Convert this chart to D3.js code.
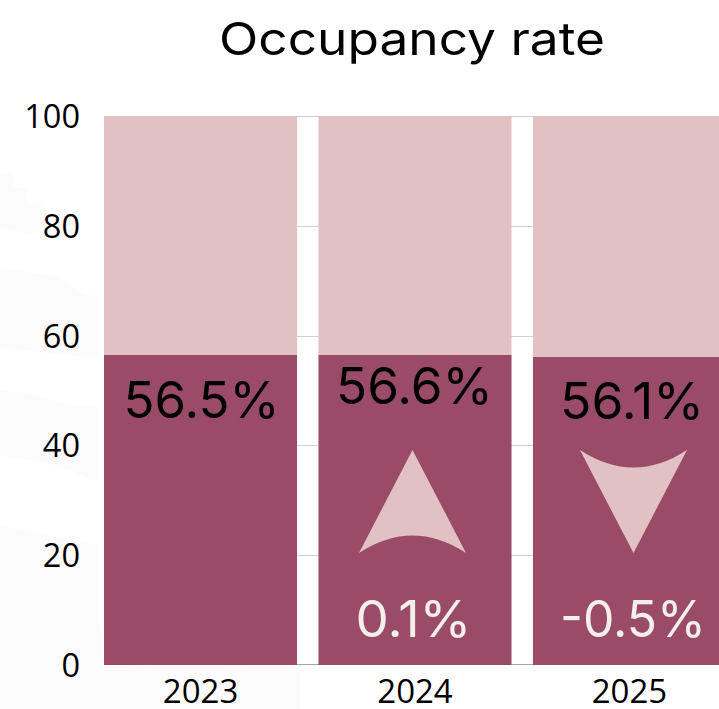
<!DOCTYPE html>
<html><head><meta charset="utf-8">
<script src="https://cdnjs.cloudflare.com/ajax/libs/d3/7.8.5/d3.min.js"></script>
<style>html,body{margin:0;padding:0;background:#fff;overflow:hidden}svg{display:block}</style>
</head><body><div id="c"></div>
<script>
const categories = ["2023","2024","2025"];
const occupied = [56.5,56.6,56.1];
const total = [100,100,100];
const changes = [null,0.1,-0.5];
const yTicks = [0,20,40,60,80,100];
const title = "Occupancy rate";

const W=719,H=709, DARK="#9a4b68", LIGHT="#e2c1c4", PALE="#f5efeb";
const display="Inter, sans-serif", body="'Open Sans', sans-serif";
const svg=d3.select("#c").append("svg").attr("width",W).attr("height",H);
const x=d3.scaleBand().domain(categories).range([104,726]).paddingInner(0.1).paddingOuter(0);
const y=d3.scaleLinear().domain([0,100]).range([665,116]);
const py=v=>Math.ceil(y(v)-0.1);

// faint background wash
const wash=[
 [[0,173],[13,173],[13,188],[27,188],[27,203],[41,203],[41,232],[27,233],[0,228]],
 [[0,268],[27,272],[55,276],[70,284],[84,294],[98,296],[98,357],[84,357],[0,348]],
 [[0,390],[27,393],[41,397],[70,405],[98,405],[98,483],[70,470],[41,462],[0,455]],
 [[0,525],[98,545],[98,610],[104,665],[300,668],[300,709],[0,709]]
];
svg.append("g").selectAll("polygon").data(wash).join("polygon")
  .attr("points",d=>d.join(" ")).attr("fill","#fcfcfc");

// grid
svg.append("g").selectAll("line").data(yTicks.filter(d=>d>0)).join("line")
  .attr("x1",104).attr("x2",W).attr("y1",d=>Math.round(y(d))+.5).attr("y2",d=>Math.round(y(d))+.5)
  .attr("stroke","#d2d2d2").attr("stroke-width",1);
svg.append("line").attr("x1",104).attr("x2",W).attr("y1",664.5).attr("y2",664.5).attr("stroke","#a6a6a6");

// bars
svg.append("g").selectAll("rect").data(categories).join("rect")
  .attr("x",d=>x(d)).attr("width",x.bandwidth())
  .attr("y",(d,i)=>y(total[i])).attr("height",(d,i)=>py(occupied[i])-y(total[i])).attr("fill",LIGHT);
svg.append("g").selectAll("rect").data(categories).join("rect")
  .attr("x",d=>x(d)).attr("width",x.bandwidth())
  .attr("y",(d,i)=>py(occupied[i])).attr("height",(d,i)=>y(0)-py(occupied[i])).attr("fill",DARK);

// axes
const yAxis=svg.append("g").attr("transform","translate(104,1)").call(d3.axisLeft(y).tickValues(yTicks).tickSize(0).tickPadding(24));
yAxis.select(".domain").remove();
yAxis.selectAll("text").attr("font-family",body).attr("font-size",32.5).attr("fill","#000");
const xAxis=svg.append("g").attr("transform","translate(0,665)").call(d3.axisBottom(x).tickSize(0).tickPadding(15));
xAxis.select(".domain").remove();
xAxis.selectAll("text").attr("font-family",body).attr("font-size",33).attr("fill","#000");

// title
svg.append("text").attr("x",412).attr("y",55).attr("text-anchor","middle")
  .attr("font-family",display).attr("font-size",45).attr("font-weight",400)
  .attr("textLength",386).attr("lengthAdjust","spacingAndGlyphs").text(title);

// value labels
const pct=d=>d+"%";
const valueBaseline=[418,404,419], valueDx=[1,-0.5,2.5], valueWidth=[156,157,144];
svg.append("g").selectAll("text").data(occupied).join("text")
  .attr("x",(d,i)=>x(categories[i])+x.bandwidth()/2+valueDx[i]).attr("y",(d,i)=>valueBaseline[i])
  .attr("text-anchor","middle").attr("font-family",display).attr("font-size",51)
  .attr("textLength",(d,i)=>valueWidth[i]).attr("lengthAdjust","spacingAndGlyphs")
  .attr("fill","#000").text(pct);

// change labels & arrows
const chg=changes.map((d,i)=>({d,i})).filter(o=>o.d!==null);
const chgDx=[-1.5,3.5], chgWidth=[116,146];
svg.append("g").selectAll("text").data(chg).join("text")
  .attr("x",(o,k)=>x(categories[o.i])+x.bandwidth()/2+chgDx[k]).attr("y",637)
  .attr("text-anchor","middle").attr("font-family",display).attr("font-size",51)
  .attr("textLength",(o,k)=>chgWidth[k]).attr("lengthAdjust","spacingAndGlyphs")
  .attr("fill",PALE).text(o=>pct(o.d));

const arrow=(o)=>{
  const up=o.d>0, c=x(categories[o.i])+x.bandwidth()/2+(up?-2.5:4), hw=53.5;
  const top=450, bot=553;
  const p=d3.path();
  if(up){p.moveTo(c,top);p.lineTo(c+hw,bot);p.quadraticCurveTo(c,518,c-hw,bot);}
  else{p.moveTo(c,bot);p.lineTo(c+hw,top);p.quadraticCurveTo(c,485,c-hw,top);}
  p.closePath();return p.toString();
};
svg.append("g").selectAll("path").data(chg).join("path").attr("d",arrow).attr("fill",LIGHT);
</script></body></html>
